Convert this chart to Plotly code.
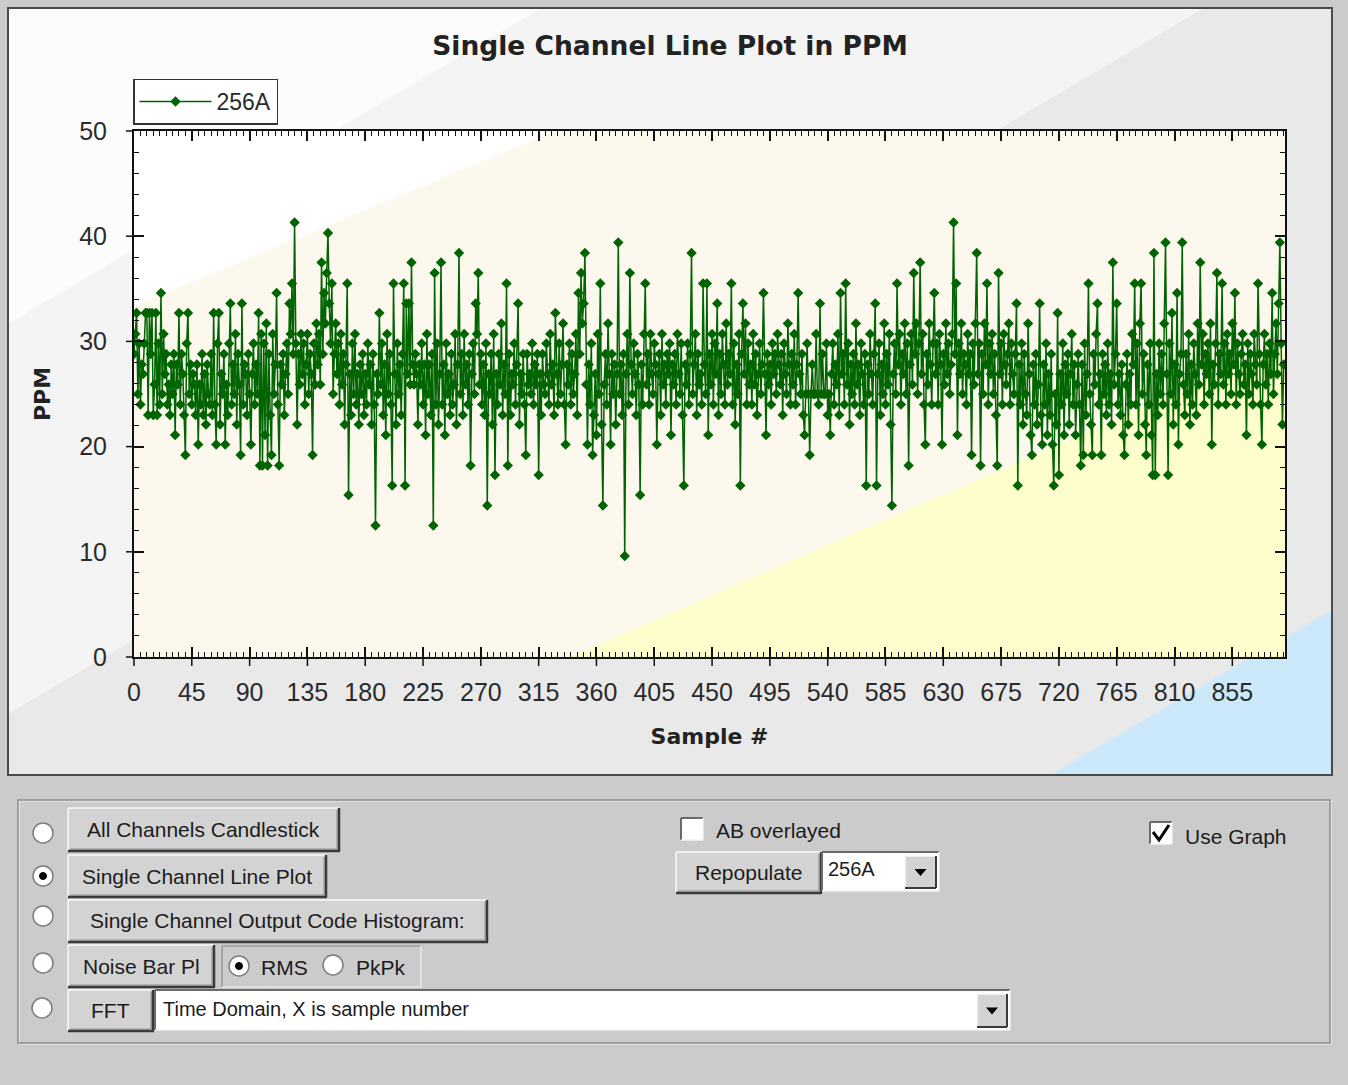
import plotly.graph_objects as go

# ---------------- data ----------------
series_name = "256A"
ppm_256A = [
    28.8, 30.7, 32.7, 25.0, 29.8, 24.0, 27.8, 26.9, 29.8, 32.7, 32.7, 23.0, 32.7, 28.8, 32.7, 23.0,
    25.9, 32.7, 23.0, 29.8, 24.0, 34.6, 25.0, 30.7, 26.9, 28.8, 24.0, 25.9, 23.0, 27.8, 25.0, 28.8,
    21.1, 27.8, 25.9, 32.7, 24.0, 28.8, 26.9, 23.0, 19.2, 29.8, 32.7, 25.0, 27.8, 24.0, 26.9, 25.9,
    23.0, 27.8, 20.2, 25.9, 24.0, 28.8, 23.0, 26.9, 22.1, 27.8, 25.0, 24.0, 28.8, 23.0, 32.7, 24.0,
    20.2, 29.8, 32.7, 22.1, 26.9, 25.0, 28.8, 20.2, 25.9, 23.0, 29.8, 33.6, 24.0, 27.8, 25.0, 30.7,
    22.1, 28.8, 25.9, 19.2, 33.6, 24.0, 27.8, 26.9, 23.0, 28.8, 25.0, 20.2, 26.9, 29.8, 24.0, 27.8,
    25.0, 32.7, 18.2, 30.7, 18.2, 29.8, 21.1, 31.7, 18.2, 28.8, 23.0, 19.2, 30.7, 25.0, 27.8, 34.6,
    24.0, 18.2, 27.8, 25.9, 28.8, 23.0, 26.9, 29.8, 25.0, 33.6, 30.7, 35.5, 28.8, 41.3, 29.8, 22.1,
    28.8, 25.9, 30.7, 26.9, 29.8, 24.0, 27.8, 30.7, 25.0, 28.8, 26.9, 19.2, 29.8, 25.9, 31.7, 27.8,
    30.7, 25.9, 37.5, 28.8, 34.6, 31.7, 36.5, 40.3, 33.6, 29.8, 35.5, 25.0, 28.8, 31.7, 26.9, 29.8,
    24.0, 30.7, 25.9, 28.8, 22.1, 27.8, 35.5, 15.4, 26.9, 23.0, 29.8, 25.0, 30.7, 24.0, 26.9, 22.1,
    27.8, 25.0, 28.8, 23.0, 26.9, 24.0, 29.8, 25.9, 27.8, 22.1, 28.8, 24.0, 12.5, 26.9, 25.0, 32.7,
    25.9, 29.8, 23.0, 27.8, 21.1, 30.7, 25.0, 28.8, 24.0, 16.3, 35.5, 26.9, 22.1, 29.8, 25.0, 27.8,
    23.0, 28.8, 35.5, 16.3, 33.6, 26.9, 33.6, 25.9, 37.5, 27.8, 25.9, 28.8, 26.9, 22.1, 27.8, 25.9,
    29.8, 24.0, 27.8, 21.1, 30.7, 25.0, 27.8, 23.0, 28.8, 12.5, 36.5, 24.0, 29.8, 22.1, 26.9, 37.5,
    24.0, 27.8, 21.1, 29.8, 25.0, 26.9, 23.0, 28.8, 24.0, 25.9, 30.7, 22.1, 27.8, 38.4, 25.0, 28.8,
    23.0, 30.7, 25.9, 27.8, 24.0, 28.8, 18.2, 26.9, 29.8, 25.0, 33.6, 30.7, 36.5, 25.9, 28.8, 24.0,
    27.8, 23.0, 29.8, 14.4, 26.9, 25.0, 28.8, 22.1, 30.7, 17.3, 26.9, 24.0, 28.8, 25.9, 31.7, 23.0,
    27.8, 25.0, 35.5, 18.2, 28.8, 23.0, 26.9, 25.9, 29.8, 24.0, 27.8, 33.6, 22.1, 26.9, 25.0, 28.8,
    24.0, 19.2, 28.8, 25.9, 26.9, 25.0, 29.8, 24.0, 27.8, 25.9, 28.8, 17.3, 26.9, 23.0, 28.8, 25.9,
    25.0, 29.8, 26.9, 24.0, 30.7, 25.9, 27.8, 23.0, 32.7, 26.9, 24.0, 29.8, 25.0, 27.8, 31.7, 24.0,
    20.2, 27.8, 25.9, 29.8, 24.0, 28.8, 25.0, 26.9, 30.7, 23.0, 34.6, 28.8, 36.5, 31.7, 33.6, 38.4,
    25.9, 20.2, 27.8, 24.0, 29.8, 19.2, 23.0, 26.9, 21.1, 30.7, 25.0, 35.5, 22.1, 14.4, 25.9, 28.8,
    24.0, 31.7, 26.9, 20.2, 28.8, 25.0, 27.8, 22.1, 26.9, 39.4, 25.0, 27.8, 23.0, 28.8, 9.6, 26.9,
    30.7, 24.0, 36.5, 27.8, 25.0, 29.8, 26.9, 23.0, 28.8, 25.9, 15.4, 27.8, 24.0, 30.7, 35.5, 25.9,
    28.8, 24.0, 30.7, 26.9, 25.0, 29.8, 27.8, 20.2, 26.9, 28.8, 23.0, 30.7, 25.9, 27.8, 24.0, 28.8,
    26.9, 29.8, 21.1, 27.8, 25.9, 28.8, 24.0, 30.7, 26.9, 25.0, 29.8, 23.0, 16.3, 27.8, 25.9, 29.8,
    24.0, 28.8, 38.4, 25.0, 27.8, 30.7, 23.0, 28.8, 25.9, 26.9, 24.0, 35.5, 27.8, 25.0, 35.5, 21.1,
    28.8, 25.9, 30.7, 24.0, 29.8, 26.9, 33.6, 23.0, 28.8, 25.0, 30.7, 27.8, 24.0, 31.7, 25.9, 28.8,
    26.9, 35.5, 24.0, 29.8, 22.1, 27.8, 25.0, 30.7, 16.3, 28.8, 33.6, 26.9, 31.7, 24.0, 29.8, 25.9,
    27.8, 24.0, 30.7, 25.9, 28.8, 23.0, 26.9, 29.8, 25.0, 27.8, 34.6, 26.9, 21.1, 28.8, 25.9, 27.8,
    24.0, 29.8, 26.9, 28.8, 25.0, 30.7, 27.8, 25.9, 28.8, 23.0, 29.8, 26.9, 25.0, 31.7, 27.8, 24.0,
    28.8, 25.9, 30.7, 24.0, 27.8, 34.6, 26.9, 25.0, 28.8, 23.0, 21.1, 25.0, 29.8, 25.0, 19.2, 25.0,
    27.8, 25.0, 25.0, 30.7, 25.0, 24.0, 33.6, 25.0, 28.8, 25.0, 25.0, 29.8, 23.0, 25.0, 21.1, 26.9,
    29.8, 24.0, 27.8, 25.9, 30.7, 23.0, 34.6, 26.9, 28.8, 24.0, 35.5, 25.9, 29.8, 22.1, 27.8, 25.0,
    28.8, 24.0, 31.7, 25.9, 27.8, 23.0, 29.8, 26.9, 24.0, 28.8, 16.3, 27.8, 25.0, 30.7, 26.9, 24.0,
    28.8, 33.6, 16.3, 26.9, 29.8, 23.0, 27.8, 25.0, 31.7, 24.0, 28.8, 25.9, 30.7, 22.1, 14.4, 26.9,
    29.8, 25.0, 35.5, 27.8, 30.7, 24.0, 28.8, 26.9, 31.7, 25.0, 29.8, 18.2, 27.8, 30.7, 25.9, 36.5,
    28.8, 31.7, 25.0, 29.8, 37.5, 26.9, 30.7, 24.0, 20.2, 28.8, 25.9, 31.7, 27.8, 24.0, 29.8, 34.6,
    26.9, 29.8, 24.0, 30.7, 27.8, 20.2, 28.8, 25.9, 31.7, 26.9, 29.8, 25.0, 27.8, 30.7, 41.3, 28.8,
    35.5, 21.1, 29.8, 26.9, 31.7, 25.0, 28.8, 27.8, 24.0, 30.7, 26.9, 28.8, 19.2, 29.8, 25.9, 31.7,
    38.4, 26.9, 29.8, 18.2, 28.8, 25.0, 31.7, 27.8, 35.5, 24.0, 29.8, 26.9, 30.7, 25.0, 28.8, 23.0,
    18.2, 36.5, 26.9, 29.8, 24.0, 30.7, 27.8, 25.9, 28.8, 31.7, 24.0, 29.8, 26.9, 25.0, 28.8, 33.6,
    16.3, 27.8, 24.0, 29.8, 22.1, 28.8, 25.0, 23.0, 31.7, 26.9, 21.1, 19.2, 27.8, 24.0, 28.8, 22.1,
    25.9, 33.6, 23.0, 20.2, 27.8, 24.0, 29.8, 21.1, 26.9, 23.0, 28.8, 20.2, 16.3, 25.0, 22.1, 32.7,
    17.3, 26.9, 24.0, 29.8, 21.1, 27.8, 25.0, 28.8, 22.1, 26.9, 30.7, 24.0, 27.8, 21.1, 25.9, 28.8,
    24.0, 18.2, 27.8, 19.2, 29.8, 23.0, 26.9, 35.5, 25.0, 22.1, 19.2, 28.8, 25.9, 30.7, 33.6, 24.0,
    26.9, 19.2, 28.8, 25.0, 27.8, 23.0, 29.8, 24.0, 26.9, 22.1, 37.5, 25.9, 28.8, 33.6, 24.0, 26.9,
    23.0, 27.8, 21.1, 19.2, 25.9, 28.8, 22.1, 26.9, 24.0, 30.7, 27.8, 35.5, 24.0, 29.8, 21.1, 31.7,
    35.5, 25.0, 28.8, 22.1, 19.2, 27.8, 24.0, 29.8, 21.1, 17.3, 38.4, 17.3, 26.9, 23.0, 29.8, 25.0,
    28.8, 24.0, 31.7, 39.4, 26.9, 17.3, 29.8, 25.0, 32.7, 22.1, 27.8, 24.0, 34.6, 20.2, 26.9, 28.8,
    39.4, 25.9, 23.0, 28.8, 25.0, 30.7, 22.1, 27.8, 24.0, 29.8, 26.9, 23.0, 31.7, 25.9, 37.5, 27.8,
    30.7, 24.0, 28.8, 26.9, 29.8, 25.0, 31.7, 20.2, 27.8, 25.9, 29.8, 36.5, 24.0, 28.8, 26.9, 35.5,
    25.9, 29.8, 24.0, 30.7, 26.9, 28.8, 25.0, 31.7, 27.8, 34.6, 24.0, 29.8, 26.9, 25.0, 28.8, 30.7,
    25.9, 27.8, 21.1, 29.8, 25.0, 28.8, 26.9, 24.0, 30.7, 27.8, 25.9, 35.5, 28.8, 24.0, 20.2, 27.8,
    30.7, 25.9, 28.8, 24.0, 29.8, 26.9, 34.6, 25.0, 28.8, 31.7, 26.9, 33.6, 39.4, 29.8, 22.1, 27.8,
]
sample_index = list(range(len(ppm_256A)))
x_tick_values = [0, 45, 90, 135, 180, 225, 270, 315, 360, 405, 450, 495, 540, 585, 630, 675, 720, 765, 810, 855]
x_tick_labels = [str(v) for v in x_tick_values]
y_tick_values = [0, 10, 20, 30, 40, 50]
x_range = [0, 896]
y_range = [0, 50]

# ---------------- layout helpers (pixel -> paper) ----------------
W, H = 1348, 1085
PL, PR, PT, PB = 134, 1285, 131, 657


def px(x):
    return (x - PL) / (PR - PL)


def py(y):
    return (PB - y) / (PB - PT)


shapes = []
annotations = []
GUI_FONT = "Liberation Sans"
TXT = "#1c1c1c"


def rect(x0, y0, x1, y1, fill=None, color=None, width=0, layer="above"):
    shapes.append(dict(type="rect", xref="paper", yref="paper",
                       x0=px(x0), x1=px(x1), y0=py(y0), y1=py(y1),
                       fillcolor=fill if fill else "rgba(0,0,0,0)",
                       line=dict(color=color if color else "rgba(0,0,0,0)", width=width),
                       layer=layer))


def poly(points, fill, layer="below"):
    path = "M " + " L ".join(f"{px(a):.5f},{py(b):.5f}" for a, b in points) + " Z"
    shapes.append(dict(type="path", xref="paper", yref="paper", path=path,
                       fillcolor=fill, line=dict(width=0), layer=layer))


def seg(x0, y0, x1, y1, color, width):
    shapes.append(dict(type="line", xref="paper", yref="paper",
                       x0=px(x0), x1=px(x1), y0=py(y0), y1=py(y1),
                       line=dict(color=color, width=width), layer="above"))


def circle(cx, cy, r, fill, color, width):
    shapes.append(dict(type="circle", xref="paper", yref="paper",
                       x0=px(cx - r), x1=px(cx + r), y0=py(cy + r), y1=py(cy - r),
                       fillcolor=fill, line=dict(color=color, width=width), layer="above"))


def text(x, y, s, anchor="left", size=21):
    annotations.append(dict(xref="paper", yref="paper", x=px(x), y=py(y), text=s,
                            showarrow=False, xanchor=anchor, yanchor="middle",
                            font=dict(family=GUI_FONT, size=size, color=TXT)))


def button(x0, y0, x1, y1, label):
    rect(x0, y0, x1, y1, fill="#d3d3d3")
    seg(x0, y0, x1, y0, "#f8f8f8", 1.5)
    seg(x0, y0, x0, y1, "#f8f8f8", 1.5)
    seg(x0 + 2, y1 - 2, x1 - 2, y1 - 2, "#8c8c8c", 1)
    seg(x1 - 2, y0 + 2, x1 - 2, y1 - 2, "#8c8c8c", 1)
    seg(x0, y1, x1 + 1, y1, "#3a3a3a", 2.5)
    seg(x1, y0, x1, y1, "#3a3a3a", 2.5)
    text((x0 + x1) / 2, (y0 + y1) / 2, label, anchor="center")


def field(x0, y0, x1, y1):
    rect(x0, y0, x1, y1, fill="#ffffff")
    seg(x0, y0, x1, y0, "#6a6a6a", 2)
    seg(x0, y0, x0, y1, "#6a6a6a", 2)
    seg(x0, y1, x1, y1, "#f2f2f2", 1.5)
    seg(x1, y0, x1, y1, "#f2f2f2", 1.5)


def radio(cx, cy, selected=False):
    circle(cx, cy, 10, "#ffffff", "#7d7d7d", 1.5)
    if selected:
        circle(cx, cy, 3.5, "#000000", "#000000", 1)


def dropdown(x0, y0, x1, y1):
    rect(x0, y0, x1, y1, fill="#d3d3d3")
    seg(x0, y0, x1, y0, "#f8f8f8", 1.5)
    seg(x0, y0, x0, y1, "#f8f8f8", 1.5)
    seg(x0, y1, x1, y1, "#3a3a3a", 2)
    seg(x1, y0, x1, y1, "#3a3a3a", 2)
    cx, cy = (x0 + x1) / 2, (y0 + y1) / 2
    poly([(cx - 6, cy - 3), (cx + 6, cy - 3), (cx, cy + 4)], "#000000", layer="above")


# ---------------- backgrounds ----------------
# chart panel with diagonal bands
rect(8, 8, 1332, 775, fill="#e9e9e9", layer="below")
poly([(542, 8), (1204, 8), (8, 714), (8, 324)], "#f4f4f4")
poly([(8, 8), (542, 8), (8, 324)], "#fcfcfc")
poly([(1050, 775), (1332, 775), (1332, 610)], "#cbe9fb")
# plot area with diagonal bands
rect(PL, PT, PR, PB, fill="#fdf8ed", layer="below")
poly([(PL, PT), (556, PT), (PL, 306)], "#ffffff")
poly([(570, PB), (PR, PB), (PR, 346)], "#fefdcc")
# panel border
rect(8, 8, 1332, 775, color="#4a4a4a", width=2)
# longer major ticks crossing the left and bottom axis lines
for v in y_tick_values:
    seg(PL - 8, PB - (PB - PT) * v / 50, PL, PB - (PB - PT) * v / 50, "#111111", 1.5)
for v in x_tick_values:
    xx = PL + (PR - PL) * v / 896
    seg(xx, PB, xx, PB + 9, "#111111", 1.5)

# ---------------- GUI controls ----------------
rect(19, 801, 1331, 1044, color="#f4f4f4", width=1.2)
rect(18, 800, 1330, 1043, color="#8e8e8e", width=1.5)

radio(43, 833)
radio(43, 876, selected=True)
radio(43, 916)
radio(43, 963)
radio(42, 1008)

button(68, 808, 339, 851, "All Channels Candlestick")
button(68, 855, 326, 897, "Single Channel Line Plot")
button(68, 900, 487, 942, "Single Channel Output Code Histogram:")
button(68, 945, 214, 987, "Noise Bar Pl")
button(68, 990, 153, 1031, "FFT")

# RMS / PkPk group
seg(222, 946, 421, 946, "#8a8a8a", 1.2)
seg(222, 946, 222, 987, "#8a8a8a", 1.2)
seg(222, 987, 421, 987, "#f4f4f4", 1.2)
seg(421, 946, 421, 987, "#f4f4f4", 1.2)
radio(239, 966, selected=True)
text(259, 967, "RMS")
radio(333, 965)
text(354, 967, "PkPk")

# FFT mode combo
field(155, 990, 1010, 1030)
text(161, 1009, "Time Domain, X is sample number", size=20)
dropdown(977, 994, 1007, 1027)

# AB overlayed checkbox
field(681, 818, 703, 840)
text(714, 830, "AB overlayed")

# Repopulate + channel combo
button(676, 852, 821, 893, "Repopulate")
field(822, 852, 939, 891)
text(826, 869, "256A", size=20)
dropdown(905, 856, 936, 888)

# Use Graph checkbox
field(1150, 822, 1172, 844)
shapes.append(dict(type="path", xref="paper", yref="paper",
                   path=f"M {px(1153):.5f},{py(832):.5f} L {px(1159):.5f},{py(840):.5f} L {px(1169):.5f},{py(825):.5f}",
                   line=dict(color="#000000", width=3), layer="above"))
text(1183, 836, "Use Graph")

# ---------------- figure ----------------
fig = go.Figure()
fig.add_trace(go.Scatter(
    x=sample_index, y=ppm_256A, mode="lines+markers", name=series_name,
    line=dict(color="#006400", width=1.5),
    marker=dict(symbol="diamond", size=8, color="#006400"),
    showlegend=True,
))

axis_common = dict(
    showgrid=False, zeroline=False, showline=True, linecolor="#111111", linewidth=2,
    mirror="ticks", ticks="inside", ticklen=10, tickwidth=1.5, tickcolor="#111111",
    tickfont=dict(family="Liberation Sans", size=25, color="#2b2b2b"),
)

fig.update_layout(
    width=W, height=H,
    margin=dict(l=PL, r=W - PR, t=PT, b=H - PB, pad=0),
    paper_bgcolor="#cbcbcb",
    plot_bgcolor="rgba(0,0,0,0)",
    title=dict(text="Single Channel Line Plot in PPM", xref="container", yref="container",
               x=670 / W, y=1 - 46 / H, xanchor="center", yanchor="middle",
               font=dict(family="DejaVu Sans", size=26.5, color="#222222", weight="bold")),
    xaxis=dict(
        range=x_range, tickmode="array", tickvals=x_tick_values, ticktext=x_tick_labels,
        minor=dict(dtick=5, tick0=0, ticks="inside", ticklen=5, tickcolor="#111111", tickwidth=1),
        ticklabelstandoff=12,
        title=dict(text="Sample #", standoff=24,
                   font=dict(family="DejaVu Sans", size=22, color="#222222", weight="bold")),
        **axis_common,
    ),
    yaxis=dict(
        range=y_range, tickmode="array", tickvals=y_tick_values,
        minor=dict(dtick=2, tick0=0, ticks="inside", ticklen=5, tickcolor="#111111", tickwidth=1),
        ticklabelstandoff=20,
        title=dict(text="PPM", standoff=22,
                   font=dict(family="DejaVu Sans", size=22, color="#222222", weight="bold")),
        **axis_common,
    ),
    legend=dict(x=px(133), y=py(101.5), xanchor="left", yanchor="middle",
                bgcolor="#ffffff", bordercolor="#333333", borderwidth=1.5,
                font=dict(family="Liberation Sans", size=23, color="#2b2b2b"),
                itemwidth=72, tracegroupgap=0),
    shapes=shapes,
    annotations=annotations,
    showlegend=True,
)

fig.write_html("out.html", config={"displayModeBar": False},
               post_script="document.body.style.margin='0px';document.body.style.overflow='hidden';")
